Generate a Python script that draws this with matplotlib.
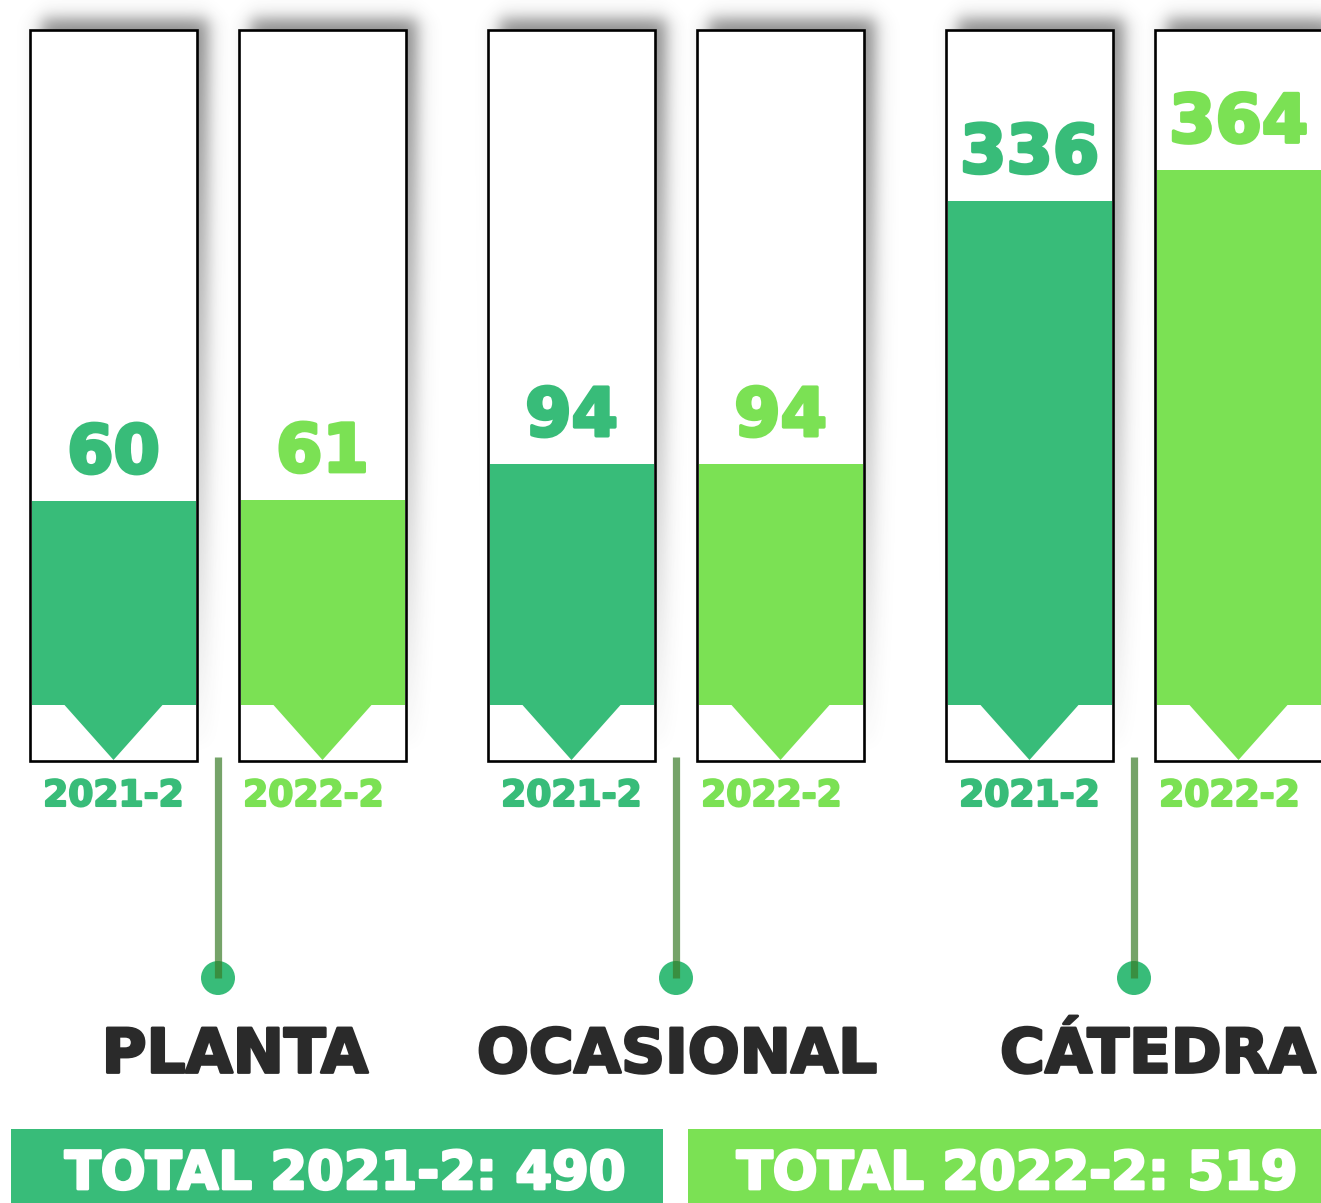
import numpy as np
import matplotlib
matplotlib.use("Agg")
import matplotlib.pyplot as plt
import matplotlib.patheffects as pe
from matplotlib.patches import Rectangle, Polygon, Circle

# ---------------- data ----------------
categories = ["PLANTA", "OCASIONAL", "CÁTEDRA"]
periods = ["2021-2", "2022-2"]
values_2021 = [60, 94, 336]
values_2022 = [61, 94, 364]
totals = [490, 519]

# ---------------- style ----------------
W, H = 1321, 1203
DARK = "#38BC79"
LIGHT = "#7BE154"
TEXT = "#2A2A2A"
LINE = "#3A7D2A"
FONT = ["DejaVu Sans"]
colors = [DARK, LIGHT]

plt.rcParams["font.family"] = FONT

def heavy(color, lw=2.0):
    return [pe.withStroke(linewidth=lw, foreground=color)]

fig = plt.figure(figsize=(W / 100, H / 100), dpi=100)
deco = fig.add_axes([0, 0, 1, 1])
deco.set_xlim(0, W)
deco.set_ylim(H, 0)
deco.axis("off")

# layout (pixels)
BOX_T, BOX_B, BASE = 30, 761, 705
BOX_W = 167
GROUP_STEP, PAIR_STEP, X0 = 458, 209, 30

box_lefts = []
for g in range(len(categories)):
    for j in range(len(periods)):
        box_lefts.append(X0 + GROUP_STEP * g + PAIR_STEP * j)

# ---------------- shadows ----------------
Y, X = np.mgrid[0:H, 0:W].astype(float)
def sig(z):
    return 1.0 / (1.0 + np.exp(-z))
alpha = np.zeros((H, W))
dx, dy, wb = 11, -12, 5.0
for L in box_lefts:
    R = L + BOX_W
    a = (sig((X - (L + dx)) / wb) * sig(((R + dx) - X) / wb) *
         sig((Y - (BOX_T + dy)) / wb) * sig(((BOX_B + dy) - Y) / wb))
    alpha = np.maximum(alpha, a)
fade = np.clip((BOX_B - Y) / (BOX_B - BOX_T), 0, 1)
alpha = alpha * fade * 0.6
img = np.zeros((H, W, 4))
img[..., 0] = img[..., 1] = img[..., 2] = 0.25
img[..., 3] = alpha
deco.imshow(img, extent=(0, W, H, 0), origin="upper", zorder=0,
            interpolation="bilinear", aspect="auto")

# ---------------- boxes, pointers ----------------
for k, L in enumerate(box_lefts):
    c = colors[k % 2]
    deco.add_patch(Rectangle((L, BOX_T), BOX_W, BOX_B - BOX_T, facecolor="white",
                             edgecolor="black", linewidth=1.9, zorder=1))
    cx = L + BOX_W / 2
    deco.add_patch(Polygon([(cx - 49, BASE), (cx + 49, BASE), (cx, BOX_B - 1)],
                           closed=True, facecolor=c, edgecolor="none", zorder=2))

# ---------------- bars (value scale) ----------------
PX_PER_UNIT = 1.0875
OFF = 139 / PX_PER_UNIT
top_val = (BASE - BOX_T) / PX_PER_UNIT - OFF
barax = fig.add_axes([0, (H - BASE) / H, 1, (BASE - BOX_T) / H], zorder=2)
barax.set_xlim(0, W)
barax.set_ylim(-OFF, top_val)
barax.axis("off")
barax.patch.set_alpha(0)

series = [values_2021, values_2022]
for j, vals in enumerate(series):
    xs = [X0 + GROUP_STEP * g + PAIR_STEP * j + BOX_W / 2 for g in range(len(categories))]
    tops = np.array(vals, dtype=float)
    barax.bar(xs, tops + OFF, bottom=-OFF, width=BOX_W - 3, color=colors[j],
              edgecolor="none", zorder=2)
    for x, v in zip(xs, vals):
        barax.annotate(str(v), (x, v), xytext=(0, 14), textcoords="offset pixels",
                       ha="center", va="bottom", color=colors[j], fontsize=48,
                       fontweight="bold", zorder=3, path_effects=heavy(colors[j], 2.5))

# ---------------- period labels ----------------
for k, L in enumerate(box_lefts):
    j = k % 2
    cx = L + BOX_W / 2 - (9 if j == 1 else 0)
    deco.text(cx, 796, periods[j], ha="center", va="center", color=colors[j],
              fontsize=26, fontweight="bold", zorder=3, path_effects=heavy(colors[j], 1.5))

# ---------------- connectors and category labels ----------------
label_x = [235, 677, 1000]
label_ha = ["center", "center", "left"]
for g, cat in enumerate(categories):
    gx = X0 + GROUP_STEP * g + BOX_W + (PAIR_STEP - BOX_W) / 2
    deco.add_patch(Circle((gx, 978), 17, facecolor=DARK, edgecolor="none", zorder=3))
    deco.plot([gx, gx], [757, 978], color=LINE, alpha=0.7, linewidth=5.2,
              solid_capstyle="butt", zorder=4)
    deco.text(label_x[g], 1056, cat, ha=label_ha[g], va="center", color=TEXT,
              fontsize=44, fontweight="bold", zorder=3, path_effects=heavy(TEXT, 2.0))

# ---------------- totals ----------------
tot_boxes = [(11, 663), (688, W + 5)]
tot_text_x = [345, 1017]
for j, (x1, x2) in enumerate(tot_boxes):
    deco.add_patch(Rectangle((x1, 1129), x2 - x1, 80, facecolor=colors[j],
                             edgecolor="none", zorder=1))
    deco.text(tot_text_x[j], 1174, f"TOTAL {periods[j]}: {totals[j]}", ha="center",
              va="center", color="white", fontsize=38, fontweight="bold", zorder=3,
              path_effects=heavy("white", 2.0))

fig.savefig("out.png", dpi=100)
